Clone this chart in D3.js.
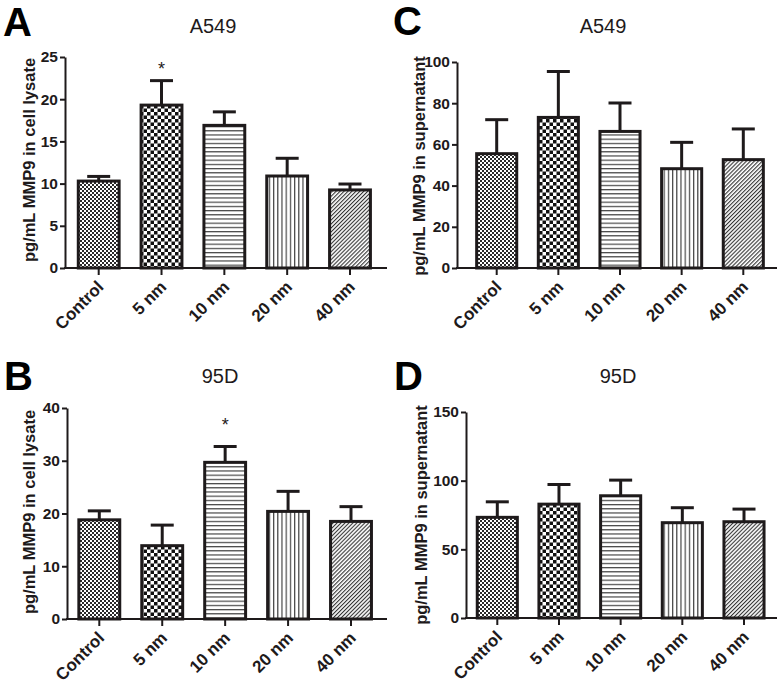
<!DOCTYPE html>
<html>
<head>
<meta charset="utf-8">
<script src="https://cdn.jsdelivr.net/npm/d3@7"></script>
<style>
  html, body { margin: 0; padding: 0; background: #fff; }
  svg { display: block; font-family: Arial, "Liberation Sans", sans-serif; }
</style>
</head>
<body>
<svg id="chart" width="780" height="687"></svg>
<script>
// ---- data ----
const categories = ["Control", "5 nm", "10 nm", "20 nm", "40 nm"];

const lysateA549    = [10.3, 19.3, 16.9, 10.9, 9.25];
const lysateA549Err = [0.55, 2.9, 1.6, 2.1, 0.7];
const starA549      = [null, 24.1, null, null, null];

const superA549     = [55.5, 73.1, 66.3, 48.2, 52.6];
const superA549Err  = [16.5, 22.3, 13.8, 12.8, 14.9];

const lysate95D     = [18.8, 13.9, 29.7, 20.4, 18.5];
const lysate95DErr  = [1.7, 3.9, 3.0, 3.8, 2.8];
const star95D       = [null, null, 37.5, null, null];

const super95D      = [73.3, 82.9, 89.0, 69.4, 70.1];
const super95DErr   = [11.3, 14.3, 11.4, 10.9, 9.2];

const ticksA = [0, 5, 10, 15, 20, 25];
const ticksC = [0, 20, 40, 60, 80, 100];
const ticksB = [0, 10, 20, 30, 40];
const ticksD = [0, 50, 100, 150];

// ---- layout ----
const panels = [
  { letter: "A", title: "A549", ylabel: "pg/mL MMP9 in cell lysate",
    values: lysateA549, errors: lysateA549Err, stars: starA549, ticks: ticksA,
    ax: 65, y0: 268, yTop: 57, xEnd: 387, c0: 98.7, c4: 350,
    titleX: 213, titleY: 33, letterX: 3, letterY: 36, labelX: 35, labelY: 160 },
  { letter: "C", title: "A549", ylabel: "pg/mL MMP9 in supernatant",
    values: superA549, errors: superA549Err, stars: [null,null,null,null,null], ticks: ticksC,
    ax: 457, y0: 268, yTop: 62, xEnd: 777, c0: 496.7, c4: 743.3,
    titleX: 603, titleY: 33, letterX: 393, letterY: 35, labelX: 425, labelY: 166 },
  { letter: "B", title: "95D", ylabel: "pg/mL MMP9 in cell lysate",
    values: lysate95D, errors: lysate95DErr, stars: star95D, ticks: ticksB,
    ax: 67, y0: 619, yTop: 408, xEnd: 387, c0: 99.3, c4: 351,
    titleX: 220, titleY: 383, letterX: 4, letterY: 390, labelX: 35, labelY: 512 },
  { letter: "D", title: "95D", ylabel: "pg/mL MMP9 in supernatant",
    values: super95D, errors: super95DErr, stars: [null,null,null,null,null], ticks: ticksD,
    ax: 466, y0: 618, yTop: 412, xEnd: 777, c0: 497.3, c4: 744,
    titleX: 618, titleY: 383, letterX: 394, letterY: 390, labelX: 427, labelY: 515 }
];

const ink = "#1e1a1b";
const svg = d3.select("#chart");
const defs = svg.append("defs");

// patterns
function checker(id, size, color) {
  const p = defs.append("pattern").attr("id", id).attr("patternUnits", "userSpaceOnUse")
    .attr("width", size * 2).attr("height", size * 2);
  p.append("rect").attr("width", size * 2).attr("height", size * 2).attr("fill", "#fff");
  p.append("rect").attr("width", size).attr("height", size).attr("fill", color);
  p.append("rect").attr("x", size).attr("y", size).attr("width", size).attr("height", size).attr("fill", color);
}
checker("pCtrl", 2, "#2a2a2a");
checker("p5", 3.5, "#111");
{
  const p = defs.append("pattern").attr("id", "p10").attr("patternUnits", "userSpaceOnUse")
    .attr("width", 8).attr("height", 4.2);
  p.append("rect").attr("width", 8).attr("height", 4.2).attr("fill", "#fff");
  p.append("rect").attr("y", 0).attr("width", 8).attr("height", 1.2).attr("fill", "#444");
}
{
  const p = defs.append("pattern").attr("id", "p20").attr("patternUnits", "userSpaceOnUse")
    .attr("width", 4.2).attr("height", 8);
  p.append("rect").attr("width", 4.2).attr("height", 8).attr("fill", "#fff");
  p.append("rect").attr("x", 0).attr("width", 1.2).attr("height", 8).attr("fill", "#444");
}
{
  const p = defs.append("pattern").attr("id", "p40").attr("patternUnits", "userSpaceOnUse")
    .attr("width", 2.8).attr("height", 8).attr("patternTransform", "rotate(45)");
  p.append("rect").attr("width", 2.8).attr("height", 8).attr("fill", "#fff");
  p.append("rect").attr("x", 0).attr("width", 1.1).attr("height", 8).attr("fill", "#333");
}
const fills = ["url(#pCtrl)", "url(#p5)", "url(#p10)", "url(#p20)", "url(#p40)"];

panels.forEach(P => {
  const g = svg.append("g");
  const step = (P.c4 - P.c0) / (categories.length - 1);
  const x = d3.scaleBand().domain(categories)
    .range([P.c0 - step / 2, P.c4 + step / 2])
    .paddingInner(0.35).paddingOuter(0.175);
  const ymax = P.ticks[P.ticks.length - 1];
  const y = d3.scaleLinear().domain([0, ymax]).range([P.y0, P.yTop]);

  const rows = categories.map((c, i) => ({ c, v: P.values[i], e: P.errors[i], s: P.stars[i], i }));

  // error bars (upper only)
  const eb = g.append("g").attr("stroke", ink).attr("stroke-width", 3);
  rows.forEach(d => {
    const cx = x(d.c) + x.bandwidth() / 2;
    eb.append("line").attr("x1", cx).attr("x2", cx).attr("y1", y(d.v)).attr("y2", y(d.v + d.e));
    eb.append("line").attr("x1", cx - 11.5).attr("x2", cx + 11.5).attr("y1", y(d.v + d.e)).attr("y2", y(d.v + d.e));
  });

  // bars
  g.append("g").selectAll("rect").data(rows).join("rect")
    .attr("x", d => x(d.c))
    .attr("y", d => y(d.v))
    .attr("width", x.bandwidth())
    .attr("height", d => y(0) - y(d.v))
    .attr("fill", d => fills[d.i])
    .attr("stroke", ink).attr("stroke-width", 3);

  // stars
  g.append("g").selectAll("text").data(rows.filter(d => d.s != null)).join("text")
    .attr("x", d => x(d.c) + x.bandwidth() / 2)
    .attr("y", d => y(d.s) + 10)
    .attr("text-anchor", "middle")
    .attr("font-size", 18).attr("fill", ink)
    .text("*");

  // y axis
  const ya = g.append("g").attr("transform", `translate(${P.ax},0)`)
    .call(d3.axisLeft(y).tickValues(P.ticks).tickSize(5).tickPadding(2).tickSizeOuter(0).tickFormat(d3.format("d")));
  ya.select(".domain").attr("stroke", ink).attr("stroke-width", 2);
  ya.selectAll(".tick line").attr("stroke", ink).attr("stroke-width", 2);
  ya.selectAll(".tick text").attr("font-size", 15.5).attr("font-weight", "bold").attr("fill", ink)
    .attr("font-family", "Arial, 'Liberation Sans', sans-serif");

  // x axis
  const xa = g.append("g").attr("transform", `translate(0,${P.y0})`)
    .call(d3.axisBottom(x).tickSize(7).tickSizeOuter(0));
  xa.select(".domain").remove();
  xa.selectAll(".tick line").attr("stroke", ink).attr("stroke-width", 2);
  xa.selectAll(".tick text")
    .attr("font-size", 17).attr("font-weight", "bold").attr("fill", ink)
    .attr("font-family", "Arial, 'Liberation Sans', sans-serif")
    .attr("text-anchor", "end")
    .attr("dy", null)
    .attr("y", 0)
    .attr("transform", "translate(6,20) rotate(-45)");
  g.append("line").attr("x1", P.ax - 1).attr("x2", P.xEnd).attr("y1", P.y0).attr("y2", P.y0)
    .attr("stroke", ink).attr("stroke-width", 2);

  // y label
  g.append("text")
    .attr("transform", `translate(${P.labelX},${P.labelY}) rotate(-90)`)
    .attr("text-anchor", "middle")
    .attr("font-size", 16.5).attr("font-weight", "bold").attr("fill", ink)
    .text(P.ylabel);

  // title
  g.append("text").attr("x", P.titleX).attr("y", P.titleY)
    .attr("text-anchor", "middle").attr("font-size", 20).attr("fill", ink)
    .text(P.title);

  // panel letter
  g.append("text").attr("x", P.letterX).attr("y", P.letterY)
    .attr("font-size", 40).attr("font-weight", "bold").attr("fill", "#000")
    .text(P.letter);
});
</script>
</body>
</html>
